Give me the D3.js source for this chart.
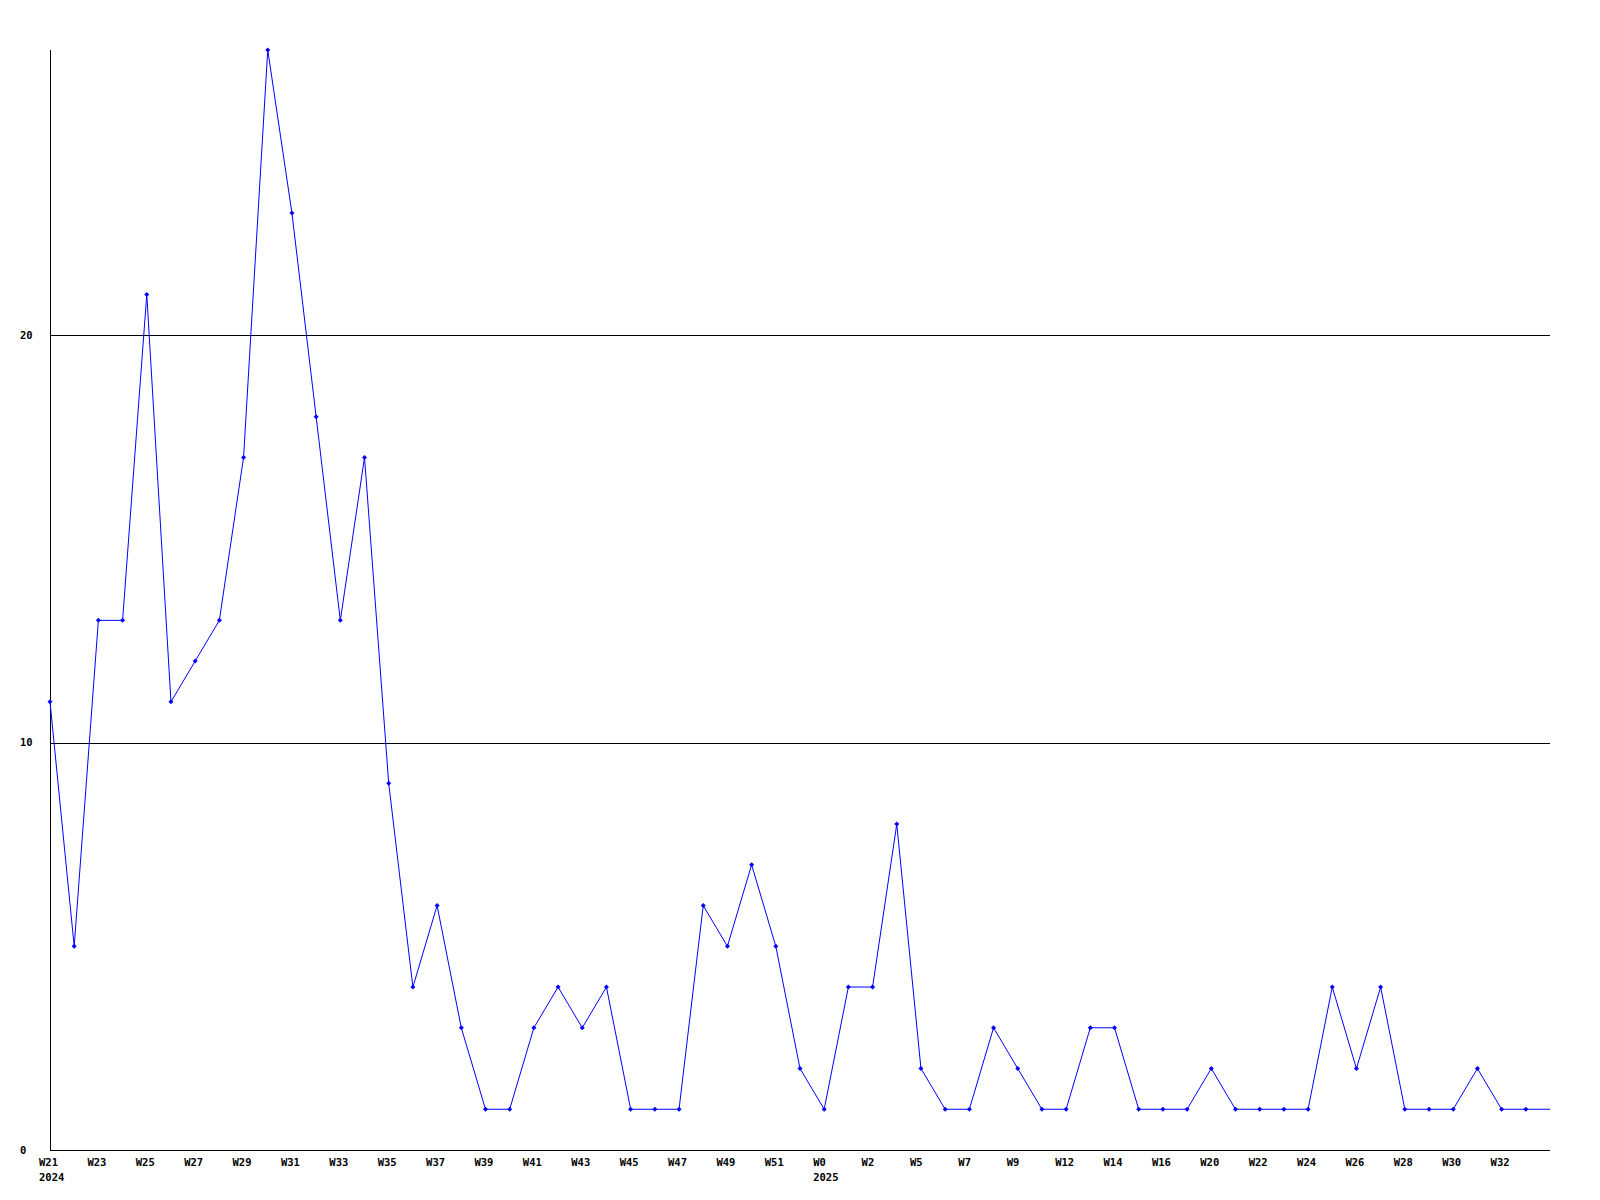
<!DOCTYPE html>
<html>
<head>
<meta charset="utf-8">
<script src="https://cdn.jsdelivr.net/npm/d3@7"></script>
<style>
  html, body { margin: 0; padding: 0; background: #fff; }
  svg { display: block; }
  text { font-family: "DejaVu Sans Mono", "Liberation Mono", monospace; font-weight: bold; font-size: 10.5px; fill: #000; }
</style>
</head>
<body>
<svg id="chart" width="1600" height="1200"></svg>
<script>
// Week categories (2024 W21 .. 2025 W34)
const weeks = [
  "W21","W22","W23","W24","W25","W26","W27","W28","W29","W30",
  "W31","W32","W33","W34","W35","W36","W37","W38","W39","W40",
  "W41","W42","W43","W44","W45","W46","W47","W48","W49","W50",
  "W51","W52","W0","W1","W2","W4","W5","W6","W7","W8",
  "W9","W11","W12","W13","W14","W15","W16","W18","W20","W21b",
  "W22b","W23b","W24b","W25b","W26b","W27b","W28b","W29b","W30b","W31b",
  "W32b","W33b","W34b"
];
const weekLabels = weeks.map(w => w.replace("b", ""));
const values = [
  11, 5, 13, 13, 21, 11, 12, 13, 17, 27,
  23, 18, 13, 17, 9, 4, 6, 3, 1, 1,
  3, 4, 3, 4, 1, 1, 1, 6, 5, 7,
  5, 2, 1, 4, 4, 8, 2, 1, 1, 3,
  2, 1, 1, 3, 3, 1, 1, 1, 2, 1,
  1, 1, 1, 4, 2, 4, 1, 1, 1, 2,
  1, 1, 1
];
const yearLabels = [{ index: 0, text: "2024" }, { index: 32, text: "2025" }];
const yTicks = [0, 10, 20];

(function () {
const svg = d3.select("#chart");
const mLeft = 50, mRight = 1550, mTop = 50, mBottom = 1150;

const x = d3.scalePoint().domain(weeks).range([mLeft, mRight]);
const y = d3.scaleLinear().domain([0, d3.max(values)]).range([mBottom, mTop]);

// gridlines
svg.selectAll("line.grid").data(yTicks.filter(t => t > 0)).enter()
  .append("line")
  .attr("x1", mLeft).attr("x2", mRight)
  .attr("y1", d => Math.round(y(d)) + 0.5).attr("y2", d => Math.round(y(d)) + 0.5)
  .attr("stroke", "#000").attr("stroke-width", 1).attr("shape-rendering", "crispEdges");

// axes lines
svg.append("line").attr("x1", mLeft + 0.5).attr("x2", mLeft + 0.5).attr("y1", mTop).attr("y2", mBottom)
  .attr("stroke", "#000").attr("shape-rendering", "crispEdges");
svg.append("line").attr("x1", mLeft).attr("x2", mRight).attr("y1", mBottom + 0.5).attr("y2", mBottom + 0.5)
  .attr("stroke", "#000").attr("shape-rendering", "crispEdges");

// y labels
svg.selectAll("text.ylab").data(yTicks).enter()
  .append("text")
  .attr("x", 20).attr("y", d => y(d)).attr("dy", "0.35em")
  .text(d => d);

// x labels every 2 categories (last, open week not labelled)
svg.selectAll("text.xlab").data(weeks.filter((w, i) => i % 2 === 0 && i < weeks.length - 1)).enter()
  .append("text")
  .attr("x", d => x(d) - 11).attr("y", 1166)
  .text(d => weekLabels[weeks.indexOf(d)]);

svg.selectAll("text.year").data(yearLabels).enter()
  .append("text")
  .attr("x", d => x(weeks[d.index]) - 11).attr("y", 1181)
  .text(d => d.text);

// line
const data = weeks.map((w, i) => ({ w, v: values[i] }));
svg.append("path").datum(data)
  .attr("fill", "none").attr("stroke", "#0000ff").attr("stroke-width", 1)
  .attr("d", d3.line().x(d => x(d.w)).y(d => y(d.v)));

// markers
svg.selectAll("path.mk").data(data.slice(0, -1)).enter()
  .append("path")
  .attr("fill", "#0000ff")
  .attr("d", d => {
    const cx = x(d.w), cy = y(d.v), r = 2.5;
    return `M${cx},${cy - r}L${cx + r},${cy}L${cx},${cy + r}L${cx - r},${cy}Z`;
  });
})();
</script>
</body>
</html>
